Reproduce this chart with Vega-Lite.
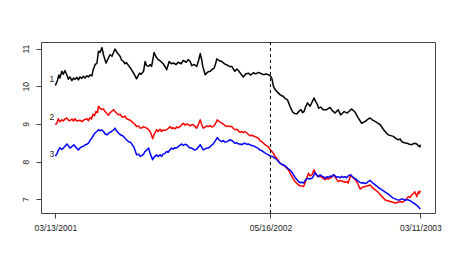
{
"$schema": "https://vega.github.io/schema/vega-lite/v6.json",
"width": 394, "height": 171,
"autosize": {"type": "none"},
"padding": {"left": 41, "top": 42, "right": 22, "bottom": 53},
"background": "white",
"config": {
 "view": {"stroke": "#444", "strokeWidth": 1},
 "axis": {"domain": false, "grid": false, "tickSize": 5, "tickColor": "#444", "labelFont": "Liberation Sans", "labelFontSize": 8.5, "labelColor": "#222"}
},
"datasets": {
 "series": [
{"s":"1","d":0,"v":10.02},{"s":"1","d":4,"v":10.15},{"s":"1","d":7,"v":10.30},{"s":"1","d":9,"v":10.22},{"s":"1","d":13,"v":10.40},{"s":"1","d":16,"v":10.32},{"s":"1","d":19,"v":10.42},{"s":"1","d":23,"v":10.30},{"s":"1","d":26,"v":10.19},{"s":"1","d":29,"v":10.25},{"s":"1","d":33,"v":10.15},{"s":"1","d":36,"v":10.22},{"s":"1","d":39,"v":10.18},{"s":"1","d":43,"v":10.24},{"s":"1","d":46,"v":10.17},{"s":"1","d":49,"v":10.25},{"s":"1","d":53,"v":10.21},{"s":"1","d":56,"v":10.27},{"s":"1","d":59,"v":10.22},{"s":"1","d":63,"v":10.28},{"s":"1","d":66,"v":10.25},{"s":"1","d":69,"v":10.30},{"s":"1","d":73,"v":10.28},{"s":"1","d":75,"v":10.42},{"s":"1","d":79,"v":10.57},{"s":"1","d":83,"v":10.62},{"s":"1","d":86,"v":10.93},{"s":"1","d":89,"v":10.90},{"s":"1","d":93,"v":11.03},{"s":"1","d":96,"v":10.84},{"s":"1","d":98,"v":10.75},{"s":"1","d":101,"v":10.62},{"s":"1","d":104,"v":10.70},{"s":"1","d":109,"v":10.84},{"s":"1","d":113,"v":10.80},{"s":"1","d":119,"v":10.99},{"s":"1","d":123,"v":10.90},{"s":"1","d":129,"v":10.80},{"s":"1","d":132,"v":10.70},{"s":"1","d":136,"v":10.66},{"s":"1","d":139,"v":10.60},{"s":"1","d":142,"v":10.63},{"s":"1","d":146,"v":10.55},{"s":"1","d":149,"v":10.50},{"s":"1","d":152,"v":10.44},{"s":"1","d":156,"v":10.35},{"s":"1","d":159,"v":10.28},{"s":"1","d":162,"v":10.20},{"s":"1","d":165,"v":10.28},{"s":"1","d":168,"v":10.35},{"s":"1","d":171,"v":10.32},{"s":"1","d":176,"v":10.40},{"s":"1","d":179,"v":10.66},{"s":"1","d":182,"v":10.55},{"s":"1","d":186,"v":10.53},{"s":"1","d":189,"v":10.58},{"s":"1","d":192,"v":10.53},{"s":"1","d":197,"v":10.90},{"s":"1","d":201,"v":10.78},{"s":"1","d":205,"v":10.71},{"s":"1","d":209,"v":10.68},{"s":"1","d":215,"v":10.60},{"s":"1","d":219,"v":10.52},{"s":"1","d":222,"v":10.44},{"s":"1","d":227,"v":10.66},{"s":"1","d":231,"v":10.60},{"s":"1","d":235,"v":10.62},{"s":"1","d":241,"v":10.58},{"s":"1","d":245,"v":10.64},{"s":"1","d":251,"v":10.60},{"s":"1","d":255,"v":10.69},{"s":"1","d":261,"v":10.64},{"s":"1","d":265,"v":10.71},{"s":"1","d":269,"v":10.66},{"s":"1","d":272,"v":10.55},{"s":"1","d":277,"v":10.58},{"s":"1","d":282,"v":10.53},{"s":"1","d":286,"v":10.70},{"s":"1","d":289,"v":10.87},{"s":"1","d":292,"v":10.70},{"s":"1","d":294,"v":10.53},{"s":"1","d":299,"v":10.31},{"s":"1","d":304,"v":10.38},{"s":"1","d":309,"v":10.40},{"s":"1","d":313,"v":10.45},{"s":"1","d":317,"v":10.49},{"s":"1","d":320,"v":10.62},{"s":"1","d":322,"v":10.73},{"s":"1","d":327,"v":10.68},{"s":"1","d":332,"v":10.66},{"s":"1","d":337,"v":10.60},{"s":"1","d":342,"v":10.57},{"s":"1","d":347,"v":10.53},{"s":"1","d":352,"v":10.53},{"s":"1","d":355,"v":10.46},{"s":"1","d":358,"v":10.40},{"s":"1","d":362,"v":10.46},{"s":"1","d":365,"v":10.42},{"s":"1","d":370,"v":10.33},{"s":"1","d":375,"v":10.25},{"s":"1","d":379,"v":10.32},{"s":"1","d":385,"v":10.35},{"s":"1","d":390,"v":10.30},{"s":"1","d":395,"v":10.36},{"s":"1","d":400,"v":10.33},{"s":"1","d":405,"v":10.37},{"s":"1","d":410,"v":10.34},{"s":"1","d":415,"v":10.31},{"s":"1","d":420,"v":10.33},{"s":"1","d":425,"v":10.31},{"s":"1","d":430,"v":10.26},{"s":"1","d":432,"v":10.20},{"s":"1","d":435,"v":10.00},{"s":"1","d":438,"v":9.92},{"s":"1","d":442,"v":9.86},{"s":"1","d":445,"v":9.82},{"s":"1","d":448,"v":9.78},{"s":"1","d":452,"v":9.75},{"s":"1","d":455,"v":9.73},{"s":"1","d":458,"v":9.68},{"s":"1","d":463,"v":9.64},{"s":"1","d":468,"v":9.47},{"s":"1","d":471,"v":9.38},{"s":"1","d":474,"v":9.31},{"s":"1","d":477,"v":9.28},{"s":"1","d":482,"v":9.27},{"s":"1","d":486,"v":9.34},{"s":"1","d":490,"v":9.38},{"s":"1","d":493,"v":9.30},{"s":"1","d":496,"v":9.33},{"s":"1","d":499,"v":9.45},{"s":"1","d":503,"v":9.56},{"s":"1","d":508,"v":9.47},{"s":"1","d":512,"v":9.58},{"s":"1","d":516,"v":9.69},{"s":"1","d":519,"v":9.60},{"s":"1","d":523,"v":9.51},{"s":"1","d":525,"v":9.42},{"s":"1","d":529,"v":9.45},{"s":"1","d":534,"v":9.38},{"s":"1","d":541,"v":9.38},{"s":"1","d":548,"v":9.44},{"s":"1","d":552,"v":9.36},{"s":"1","d":558,"v":9.29},{"s":"1","d":564,"v":9.38},{"s":"1","d":569,"v":9.24},{"s":"1","d":576,"v":9.33},{"s":"1","d":582,"v":9.29},{"s":"1","d":586,"v":9.34},{"s":"1","d":591,"v":9.40},{"s":"1","d":598,"v":9.31},{"s":"1","d":604,"v":9.16},{"s":"1","d":611,"v":9.02},{"s":"1","d":618,"v":9.07},{"s":"1","d":623,"v":9.12},{"s":"1","d":628,"v":9.16},{"s":"1","d":633,"v":9.10},{"s":"1","d":638,"v":9.07},{"s":"1","d":643,"v":9.02},{"s":"1","d":648,"v":8.98},{"s":"1","d":654,"v":8.86},{"s":"1","d":659,"v":8.78},{"s":"1","d":664,"v":8.71},{"s":"1","d":669,"v":8.69},{"s":"1","d":674,"v":8.67},{"s":"1","d":679,"v":8.62},{"s":"1","d":684,"v":8.58},{"s":"1","d":688,"v":8.60},{"s":"1","d":691,"v":8.53},{"s":"1","d":696,"v":8.50},{"s":"1","d":701,"v":8.49},{"s":"1","d":706,"v":8.46},{"s":"1","d":711,"v":8.45},{"s":"1","d":716,"v":8.49},{"s":"1","d":721,"v":8.47},{"s":"1","d":724,"v":8.42},{"s":"1","d":727,"v":8.39},{"s":"1","d":728,"v":8.45},
{"s":"2","d":0,"v":8.98},{"s":"2","d":3,"v":9.02},{"s":"2","d":6,"v":9.14},{"s":"2","d":9,"v":9.06},{"s":"2","d":13,"v":9.11},{"s":"2","d":16,"v":9.08},{"s":"2","d":19,"v":9.13},{"s":"2","d":23,"v":9.16},{"s":"2","d":26,"v":9.10},{"s":"2","d":29,"v":9.09},{"s":"2","d":33,"v":9.13},{"s":"2","d":36,"v":9.08},{"s":"2","d":39,"v":9.14},{"s":"2","d":43,"v":9.08},{"s":"2","d":49,"v":9.10},{"s":"2","d":53,"v":9.06},{"s":"2","d":57,"v":9.11},{"s":"2","d":63,"v":9.14},{"s":"2","d":66,"v":9.09},{"s":"2","d":69,"v":9.17},{"s":"2","d":72,"v":9.13},{"s":"2","d":75,"v":9.26},{"s":"2","d":78,"v":9.22},{"s":"2","d":81,"v":9.33},{"s":"2","d":84,"v":9.30},{"s":"2","d":86,"v":9.47},{"s":"2","d":89,"v":9.42},{"s":"2","d":93,"v":9.38},{"s":"2","d":96,"v":9.40},{"s":"2","d":99,"v":9.33},{"s":"2","d":103,"v":9.28},{"s":"2","d":106,"v":9.23},{"s":"2","d":109,"v":9.30},{"s":"2","d":112,"v":9.33},{"s":"2","d":116,"v":9.38},{"s":"2","d":119,"v":9.33},{"s":"2","d":122,"v":9.29},{"s":"2","d":126,"v":9.24},{"s":"2","d":129,"v":9.26},{"s":"2","d":132,"v":9.20},{"s":"2","d":136,"v":9.18},{"s":"2","d":139,"v":9.21},{"s":"2","d":142,"v":9.14},{"s":"2","d":146,"v":9.12},{"s":"2","d":149,"v":9.10},{"s":"2","d":152,"v":9.07},{"s":"2","d":156,"v":9.02},{"s":"2","d":159,"v":8.99},{"s":"2","d":162,"v":8.93},{"s":"2","d":166,"v":8.95},{"s":"2","d":169,"v":8.89},{"s":"2","d":172,"v":8.89},{"s":"2","d":176,"v":8.93},{"s":"2","d":179,"v":8.91},{"s":"2","d":182,"v":8.89},{"s":"2","d":186,"v":8.85},{"s":"2","d":189,"v":8.80},{"s":"2","d":192,"v":8.70},{"s":"2","d":194,"v":8.61},{"s":"2","d":197,"v":8.72},{"s":"2","d":202,"v":8.85},{"s":"2","d":205,"v":8.80},{"s":"2","d":209,"v":8.86},{"s":"2","d":212,"v":8.80},{"s":"2","d":215,"v":8.84},{"s":"2","d":219,"v":8.83},{"s":"2","d":222,"v":8.85},{"s":"2","d":225,"v":8.88},{"s":"2","d":229,"v":8.93},{"s":"2","d":232,"v":8.88},{"s":"2","d":235,"v":8.90},{"s":"2","d":239,"v":8.87},{"s":"2","d":242,"v":8.92},{"s":"2","d":245,"v":8.90},{"s":"2","d":249,"v":8.93},{"s":"2","d":252,"v":8.98},{"s":"2","d":255,"v":9.02},{"s":"2","d":259,"v":8.97},{"s":"2","d":262,"v":9.00},{"s":"2","d":265,"v":8.99},{"s":"2","d":269,"v":8.95},{"s":"2","d":272,"v":8.98},{"s":"2","d":275,"v":8.98},{"s":"2","d":279,"v":8.93},{"s":"2","d":282,"v":8.89},{"s":"2","d":285,"v":8.98},{"s":"2","d":289,"v":9.11},{"s":"2","d":292,"v":8.98},{"s":"2","d":295,"v":8.89},{"s":"2","d":299,"v":8.92},{"s":"2","d":302,"v":8.95},{"s":"2","d":305,"v":8.93},{"s":"2","d":309,"v":8.96},{"s":"2","d":312,"v":8.92},{"s":"2","d":315,"v":8.93},{"s":"2","d":319,"v":9.00},{"s":"2","d":323,"v":9.11},{"s":"2","d":327,"v":9.06},{"s":"2","d":332,"v":9.02},{"s":"2","d":335,"v":9.00},{"s":"2","d":338,"v":8.96},{"s":"2","d":342,"v":8.93},{"s":"2","d":345,"v":8.95},{"s":"2","d":348,"v":8.93},{"s":"2","d":352,"v":8.93},{"s":"2","d":355,"v":8.88},{"s":"2","d":358,"v":8.85},{"s":"2","d":362,"v":8.86},{"s":"2","d":365,"v":8.82},{"s":"2","d":368,"v":8.78},{"s":"2","d":372,"v":8.80},{"s":"2","d":375,"v":8.77},{"s":"2","d":378,"v":8.80},{"s":"2","d":382,"v":8.76},{"s":"2","d":385,"v":8.72},{"s":"2","d":388,"v":8.69},{"s":"2","d":392,"v":8.70},{"s":"2","d":395,"v":8.68},{"s":"2","d":398,"v":8.67},{"s":"2","d":402,"v":8.64},{"s":"2","d":405,"v":8.62},{"s":"2","d":408,"v":8.56},{"s":"2","d":412,"v":8.53},{"s":"2","d":415,"v":8.49},{"s":"2","d":418,"v":8.45},{"s":"2","d":422,"v":8.42},{"s":"2","d":425,"v":8.39},{"s":"2","d":428,"v":8.32},{"s":"2","d":432,"v":8.27},{"s":"2","d":435,"v":8.22},{"s":"2","d":438,"v":8.14},{"s":"2","d":442,"v":8.08},{"s":"2","d":445,"v":8.02},{"s":"2","d":448,"v":7.96},{"s":"2","d":452,"v":7.92},{"s":"2","d":455,"v":7.90},{"s":"2","d":458,"v":7.87},{"s":"2","d":462,"v":7.82},{"s":"2","d":465,"v":7.78},{"s":"2","d":468,"v":7.70},{"s":"2","d":472,"v":7.60},{"s":"2","d":475,"v":7.53},{"s":"2","d":478,"v":7.47},{"s":"2","d":482,"v":7.42},{"s":"2","d":485,"v":7.38},{"s":"2","d":488,"v":7.36},{"s":"2","d":491,"v":7.35},{"s":"2","d":495,"v":7.34},{"s":"2","d":497,"v":7.40},{"s":"2","d":500,"v":7.52},{"s":"2","d":503,"v":7.62},{"s":"2","d":505,"v":7.69},{"s":"2","d":508,"v":7.62},{"s":"2","d":512,"v":7.65},{"s":"2","d":514,"v":7.72},{"s":"2","d":516,"v":7.78},{"s":"2","d":519,"v":7.68},{"s":"2","d":523,"v":7.60},{"s":"2","d":526,"v":7.63},{"s":"2","d":528,"v":7.60},{"s":"2","d":531,"v":7.60},{"s":"2","d":534,"v":7.55},{"s":"2","d":538,"v":7.52},{"s":"2","d":541,"v":7.55},{"s":"2","d":545,"v":7.54},{"s":"2","d":548,"v":7.56},{"s":"2","d":552,"v":7.60},{"s":"2","d":556,"v":7.65},{"s":"2","d":560,"v":7.55},{"s":"2","d":564,"v":7.47},{"s":"2","d":568,"v":7.50},{"s":"2","d":574,"v":7.47},{"s":"2","d":578,"v":7.45},{"s":"2","d":582,"v":7.47},{"s":"2","d":584,"v":7.43},{"s":"2","d":587,"v":7.55},{"s":"2","d":589,"v":7.65},{"s":"2","d":593,"v":7.58},{"s":"2","d":598,"v":7.52},{"s":"2","d":603,"v":7.42},{"s":"2","d":608,"v":7.27},{"s":"2","d":613,"v":7.32},{"s":"2","d":618,"v":7.34},{"s":"2","d":623,"v":7.36},{"s":"2","d":628,"v":7.38},{"s":"2","d":633,"v":7.30},{"s":"2","d":638,"v":7.25},{"s":"2","d":643,"v":7.20},{"s":"2","d":648,"v":7.12},{"s":"2","d":653,"v":7.05},{"s":"2","d":658,"v":6.98},{"s":"2","d":663,"v":6.96},{"s":"2","d":668,"v":6.94},{"s":"2","d":673,"v":6.92},{"s":"2","d":678,"v":6.90},{"s":"2","d":683,"v":6.92},{"s":"2","d":688,"v":6.94},{"s":"2","d":693,"v":6.92},{"s":"2","d":698,"v":6.98},{"s":"2","d":701,"v":7.02},{"s":"2","d":704,"v":7.07},{"s":"2","d":708,"v":7.05},{"s":"2","d":711,"v":7.12},{"s":"2","d":714,"v":7.15},{"s":"2","d":717,"v":7.20},{"s":"2","d":721,"v":7.07},{"s":"2","d":724,"v":7.20},{"s":"2","d":726,"v":7.16},{"s":"2","d":728,"v":7.23},
{"s":"3","d":0,"v":8.15},{"s":"3","d":3,"v":8.20},{"s":"3","d":6,"v":8.30},{"s":"3","d":9,"v":8.37},{"s":"3","d":13,"v":8.32},{"s":"3","d":16,"v":8.36},{"s":"3","d":19,"v":8.40},{"s":"3","d":23,"v":8.47},{"s":"3","d":26,"v":8.42},{"s":"3","d":29,"v":8.36},{"s":"3","d":33,"v":8.40},{"s":"3","d":37,"v":8.45},{"s":"3","d":41,"v":8.38},{"s":"3","d":46,"v":8.31},{"s":"3","d":49,"v":8.36},{"s":"3","d":53,"v":8.40},{"s":"3","d":56,"v":8.40},{"s":"3","d":59,"v":8.44},{"s":"3","d":63,"v":8.46},{"s":"3","d":66,"v":8.49},{"s":"3","d":69,"v":8.56},{"s":"3","d":73,"v":8.63},{"s":"3","d":76,"v":8.70},{"s":"3","d":79,"v":8.76},{"s":"3","d":83,"v":8.80},{"s":"3","d":86,"v":8.85},{"s":"3","d":89,"v":8.82},{"s":"3","d":93,"v":8.84},{"s":"3","d":96,"v":8.80},{"s":"3","d":99,"v":8.74},{"s":"3","d":103,"v":8.71},{"s":"3","d":106,"v":8.75},{"s":"3","d":109,"v":8.78},{"s":"3","d":112,"v":8.80},{"s":"3","d":116,"v":8.84},{"s":"3","d":119,"v":8.89},{"s":"3","d":122,"v":8.82},{"s":"3","d":126,"v":8.76},{"s":"3","d":129,"v":8.72},{"s":"3","d":132,"v":8.70},{"s":"3","d":136,"v":8.67},{"s":"3","d":139,"v":8.62},{"s":"3","d":142,"v":8.58},{"s":"3","d":146,"v":8.53},{"s":"3","d":149,"v":8.52},{"s":"3","d":152,"v":8.48},{"s":"3","d":156,"v":8.40},{"s":"3","d":159,"v":8.30},{"s":"3","d":162,"v":8.18},{"s":"3","d":166,"v":8.20},{"s":"3","d":169,"v":8.14},{"s":"3","d":172,"v":8.16},{"s":"3","d":176,"v":8.20},{"s":"3","d":179,"v":8.27},{"s":"3","d":182,"v":8.30},{"s":"3","d":186,"v":8.36},{"s":"3","d":189,"v":8.22},{"s":"3","d":192,"v":8.12},{"s":"3","d":194,"v":8.05},{"s":"3","d":197,"v":8.12},{"s":"3","d":202,"v":8.18},{"s":"3","d":205,"v":8.14},{"s":"3","d":209,"v":8.18},{"s":"3","d":212,"v":8.14},{"s":"3","d":215,"v":8.20},{"s":"3","d":219,"v":8.22},{"s":"3","d":222,"v":8.27},{"s":"3","d":225,"v":8.25},{"s":"3","d":229,"v":8.32},{"s":"3","d":232,"v":8.36},{"s":"3","d":235,"v":8.33},{"s":"3","d":239,"v":8.37},{"s":"3","d":242,"v":8.36},{"s":"3","d":245,"v":8.40},{"s":"3","d":249,"v":8.44},{"s":"3","d":252,"v":8.47},{"s":"3","d":255,"v":8.43},{"s":"3","d":259,"v":8.46},{"s":"3","d":262,"v":8.45},{"s":"3","d":265,"v":8.40},{"s":"3","d":269,"v":8.36},{"s":"3","d":272,"v":8.36},{"s":"3","d":275,"v":8.33},{"s":"3","d":279,"v":8.31},{"s":"3","d":282,"v":8.33},{"s":"3","d":285,"v":8.38},{"s":"3","d":289,"v":8.45},{"s":"3","d":292,"v":8.38},{"s":"3","d":295,"v":8.31},{"s":"3","d":299,"v":8.34},{"s":"3","d":302,"v":8.36},{"s":"3","d":305,"v":8.36},{"s":"3","d":309,"v":8.40},{"s":"3","d":312,"v":8.44},{"s":"3","d":315,"v":8.47},{"s":"3","d":319,"v":8.55},{"s":"3","d":323,"v":8.64},{"s":"3","d":327,"v":8.57},{"s":"3","d":332,"v":8.53},{"s":"3","d":335,"v":8.56},{"s":"3","d":338,"v":8.52},{"s":"3","d":342,"v":8.53},{"s":"3","d":345,"v":8.55},{"s":"3","d":348,"v":8.58},{"s":"3","d":352,"v":8.56},{"s":"3","d":355,"v":8.53},{"s":"3","d":358,"v":8.49},{"s":"3","d":362,"v":8.50},{"s":"3","d":365,"v":8.47},{"s":"3","d":368,"v":8.47},{"s":"3","d":372,"v":8.45},{"s":"3","d":375,"v":8.48},{"s":"3","d":378,"v":8.49},{"s":"3","d":382,"v":8.46},{"s":"3","d":385,"v":8.47},{"s":"3","d":388,"v":8.45},{"s":"3","d":392,"v":8.43},{"s":"3","d":395,"v":8.42},{"s":"3","d":398,"v":8.40},{"s":"3","d":402,"v":8.37},{"s":"3","d":405,"v":8.35},{"s":"3","d":408,"v":8.31},{"s":"3","d":412,"v":8.29},{"s":"3","d":415,"v":8.26},{"s":"3","d":418,"v":8.23},{"s":"3","d":422,"v":8.20},{"s":"3","d":425,"v":8.18},{"s":"3","d":428,"v":8.15},{"s":"3","d":432,"v":8.14},{"s":"3","d":435,"v":8.12},{"s":"3","d":438,"v":8.09},{"s":"3","d":442,"v":8.05},{"s":"3","d":445,"v":8.00},{"s":"3","d":448,"v":7.96},{"s":"3","d":452,"v":7.93},{"s":"3","d":455,"v":7.91},{"s":"3","d":458,"v":7.89},{"s":"3","d":462,"v":7.84},{"s":"3","d":465,"v":7.80},{"s":"3","d":468,"v":7.78},{"s":"3","d":472,"v":7.72},{"s":"3","d":475,"v":7.65},{"s":"3","d":478,"v":7.58},{"s":"3","d":482,"v":7.52},{"s":"3","d":485,"v":7.47},{"s":"3","d":488,"v":7.44},{"s":"3","d":491,"v":7.45},{"s":"3","d":495,"v":7.43},{"s":"3","d":498,"v":7.50},{"s":"3","d":503,"v":7.56},{"s":"3","d":506,"v":7.54},{"s":"3","d":512,"v":7.56},{"s":"3","d":515,"v":7.62},{"s":"3","d":518,"v":7.71},{"s":"3","d":522,"v":7.64},{"s":"3","d":525,"v":7.60},{"s":"3","d":528,"v":7.65},{"s":"3","d":531,"v":7.62},{"s":"3","d":534,"v":7.60},{"s":"3","d":538,"v":7.56},{"s":"3","d":541,"v":7.60},{"s":"3","d":545,"v":7.58},{"s":"3","d":548,"v":7.62},{"s":"3","d":552,"v":7.60},{"s":"3","d":554,"v":7.65},{"s":"3","d":558,"v":7.62},{"s":"3","d":561,"v":7.58},{"s":"3","d":564,"v":7.60},{"s":"3","d":568,"v":7.57},{"s":"3","d":571,"v":7.61},{"s":"3","d":574,"v":7.58},{"s":"3","d":578,"v":7.60},{"s":"3","d":581,"v":7.57},{"s":"3","d":584,"v":7.62},{"s":"3","d":588,"v":7.65},{"s":"3","d":591,"v":7.62},{"s":"3","d":594,"v":7.58},{"s":"3","d":598,"v":7.55},{"s":"3","d":601,"v":7.52},{"s":"3","d":604,"v":7.48},{"s":"3","d":608,"v":7.45},{"s":"3","d":611,"v":7.43},{"s":"3","d":614,"v":7.44},{"s":"3","d":618,"v":7.42},{"s":"3","d":621,"v":7.43},{"s":"3","d":624,"v":7.47},{"s":"3","d":628,"v":7.50},{"s":"3","d":631,"v":7.46},{"s":"3","d":634,"v":7.42},{"s":"3","d":638,"v":7.38},{"s":"3","d":641,"v":7.35},{"s":"3","d":644,"v":7.31},{"s":"3","d":648,"v":7.28},{"s":"3","d":651,"v":7.25},{"s":"3","d":654,"v":7.23},{"s":"3","d":658,"v":7.19},{"s":"3","d":661,"v":7.16},{"s":"3","d":664,"v":7.14},{"s":"3","d":668,"v":7.09},{"s":"3","d":671,"v":7.06},{"s":"3","d":674,"v":7.03},{"s":"3","d":678,"v":7.01},{"s":"3","d":681,"v":6.99},{"s":"3","d":684,"v":6.98},{"s":"3","d":688,"v":6.99},{"s":"3","d":691,"v":7.01},{"s":"3","d":694,"v":7.00},{"s":"3","d":698,"v":6.97},{"s":"3","d":701,"v":6.99},{"s":"3","d":704,"v":6.98},{"s":"3","d":708,"v":6.96},{"s":"3","d":711,"v":6.93},{"s":"3","d":714,"v":6.90},{"s":"3","d":717,"v":6.88},{"s":"3","d":721,"v":6.84},{"s":"3","d":724,"v":6.80},{"s":"3","d":726,"v":6.77},{"s":"3","d":728,"v":6.74}
 ],
 "labels": [{"s":"1","d":-7,"v":10.20},{"s":"2","d":-7,"v":9.18},{"s":"3","d":-7,"v":8.19}],
 "marker": [{"d":429}]
},
"layer": [
 {
  "data": {"name": "series"},
  "mark": {"type": "line", "strokeWidth": 1.5, "strokeJoin": "round"},
  "encoding": {
   "x": {"field": "d", "type": "quantitative", "title": null,
     "scale": {"domain": [-28.6, 757.2], "nice": false, "zero": false},
     "axis": {"values": [0, 429, 728], "labelPadding": 5, "labelFlush": false,
       "labelExpr": "datum.value == 0 ? '03/13/2001' : datum.value == 429 ? '05/16/2002' : '03/11/2003'"}},
   "y": {"field": "v", "type": "quantitative", "title": null,
     "scale": {"domain": [6.635, 11.178], "nice": false, "zero": false},
     "axis": {"values": [7, 8, 9, 10, 11], "labelAngle": -90, "labelAlign": "center", "labelBaseline": "bottom", "labelPadding": 6}},
   "color": {"field": "s", "type": "nominal", "legend": null,
     "scale": {"domain": ["1", "2", "3"], "range": ["#000000", "#ff0000", "#0000ff"]}}
  }
 },
 {
  "data": {"name": "marker"},
  "mark": {"type": "rule", "color": "#000000", "strokeWidth": 1, "strokeDash": [3, 3]},
  "encoding": {"x": {"field": "d", "type": "quantitative"}}
 },
 {
  "data": {"name": "labels"},
  "mark": {"type": "text", "font": "Liberation Sans", "fontSize": 8.5, "color": "#222", "align": "center", "baseline": "middle"},
  "encoding": {
   "x": {"field": "d", "type": "quantitative"},
   "y": {"field": "v", "type": "quantitative"},
   "text": {"field": "s"}
  }
 }
]
}
